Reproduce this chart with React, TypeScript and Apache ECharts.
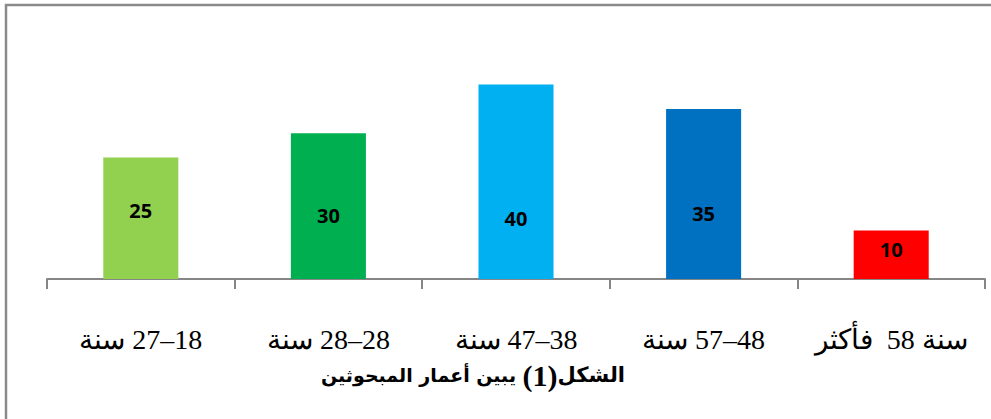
import React, { useEffect, useRef } from 'react';
import * as echarts from 'echarts';

const categories = ['18–27 سنة', '28–28 سنة', '38–47 سنة', '48–57 سنة', 'سنة 58  فأكثر'];
const values = [25, 30, 40, 35, 10];
const barColors = ['#92D050', '#00B050', '#00B0F0', '#0070C0', '#FF0000'];
// title pieces (reads right to left: الشكل(1) يبين أعمار المبحوثين)
const titleWord = 'الشكل';
const titleNumber = '(1)';
const titleRest = 'يبين أعمار المبحوثين';

// label placement (distance from bar base, px) – style only
const labelDistances = [59, 54, 51, 56, 20];

export default function App() {
  const ref = useRef<HTMLDivElement>(null);
  useEffect(() => {
    if (!ref.current) return;
    const chart = echarts.init(ref.current, null, { renderer: 'svg' });
    const axisColor = '#868686';
    chart.setOption({
      animation: false,
      backgroundColor: '#ffffff',
      grid: { left: 47, right: 6, top: 36, bottom: 140, containLabel: false },
      xAxis: {
        type: 'category',
        data: categories,
        axisLine: { show: true, lineStyle: { color: axisColor, width: 2 } },
        axisTick: { show: true, length: 10, lineStyle: { color: axisColor, width: 2 } },
        axisLabel: {
          interval: 0,
          margin: 46,
          fontSize: 28,
          color: '#000',
          fontFamily: '"Liberation Serif", "Times New Roman", serif',
          formatter: (v: string) => '\u200F' + v,
        },
        splitLine: { show: false },
      },
      yAxis: {
        type: 'value',
        min: 0,
        max: 50,
        show: false,
        splitLine: { show: false },
      },
      graphic: [
        {
          type: 'polyline',
          shape: { points: [[6, 419], [6, 5], [991, 5]] },
          style: { stroke: '#8a8a8a', lineWidth: 2.5, fill: 'none' },
          z: 10,
        },
        {
          type: 'text',
          x: 473,
          y: 375,
          style: {
            text: '{a|' + titleRest + '} {b|' + titleNumber + '}{c|' + titleWord + '}',
            fontSize: 19,
            fontWeight: 'bold',
            fill: '#000',
            fontFamily: '"DejaVu Sans", sans-serif',
            textAlign: 'center',
            textVerticalAlign: 'middle',
            rich: {
              a: { fontSize: 19, fontWeight: 'bold', fill: '#000', fontFamily: '"DejaVu Sans", sans-serif' },
              b: { fontSize: 30, fontWeight: 'bold', fill: '#000', fontFamily: '"Liberation Serif", serif' },
              c: { fontSize: 21, fontWeight: 'bold', fill: '#000', fontFamily: '"DejaVu Sans", sans-serif' },
            },
          },
        },
      ],
      series: [
        {
          type: 'bar',
          barWidth: '40%',
          data: values.map((v, i) => ({
            value: v,
            itemStyle: { color: barColors[i] },
            label: { distance: labelDistances[i] },
          })),
          label: {
            show: true,
            position: 'insideBottom',
            color: '#000',
            fontSize: 20,
            fontWeight: 'bold',
            fontFamily: '"Open Sans", sans-serif',
          },
        },
      ],
    });
    return () => chart.dispose();
  }, []);
  return (
    <div
      ref={ref}
      style={{ position: 'fixed', left: 0, top: 0, width: 991, height: 419, background: '#fff' }}
    />
  );
}
